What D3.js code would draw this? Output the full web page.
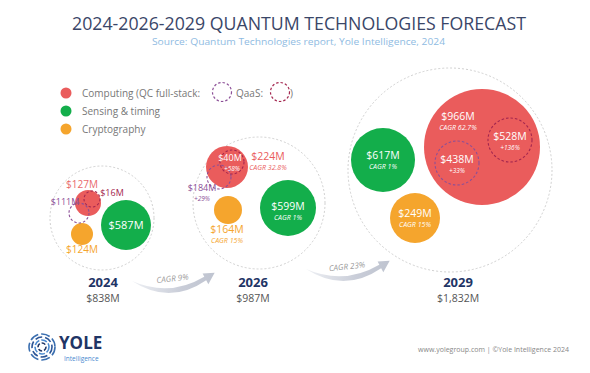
<!DOCTYPE html>
<html lang="en">
<head>
    <meta charset="UTF-8">
    <title>Quantum Technologies Forecast</title>
    <style>
        body { margin: 0; background: #fff; }
        svg { display: block; font-family: "Open Sans", sans-serif; }
    </style>
</head>
<body>
    <svg width="590" height="373"></svg>

    <script src="https://d3js.org/d3.v7.min.js"></script>
    <script>
        // data (US$ million)
        let years = ["2024", "2026", "2029"];
        let totals = [838, 987, 1832];
        let computing = [127, 224, 966];
        let sensing = [587, 599, 617];
        let crypto = [124, 164, 249];
        let qcFullStack = [111, 184, 438];
        let qaas = [16, 40, 528];
        let computingCagr = ["", "32.8%", "62.7%"];
        let sensingCagr = ["", "1%", "1%"];
        let cryptoCagr = ["", "15%", "15%"];
        let qcGrowth = ["", "+29%", "+33%"];
        let qaasGrowth = ["", "+58%", "+136%"];
        let totalCagr = ["9%", "23%"];

        // layout (not data): group centres / radii, and bubble offsets inside each group
        let groupX = d3.scaleOrdinal().domain(years).range([102, 259, 450]);
        let groupY = d3.scaleOrdinal().domain(years).range([218, 203, 170]);
        let groupR = d3.scaleOrdinal().domain(years).range([52, 66, 102]);
        let bubbleLayout = {
            computing: [[-14, -15, 13], [-32, -36, 21], [32, -23, 58]],
            sensing:   [[24, 7, 25], [29, 5, 28], [-67, -10, 32]],
            crypto:    [[-20, 16, 11], [-31, 7, 14], [-35, 48, 25]],
            qc:        [[-23, -5, 10], [-40, -26, 12], [7, -7, 22]],
            qaas:      [[-10, -19, 8], [-27, -41, 12], [60, -30, 22]]
        };

        let red = "#ea5c5c", green = "#13ae4b", orange = "#f5a52d";
        let purple = "#8c4f97", wine = "#a3264f";
        let money = d3.format("$,");

        let svg = d3.select("svg");

        // title
        svg.append("text").attr("x", 72).attr("y", 30)
            .attr("textLength", 454).attr("lengthAdjust", "spacingAndGlyphs")
            .style("font-size", "18px").style("fill", "#3a4668")
            .text("2024-2026-2029 QUANTUM TECHNOLOGIES FORECAST");
        svg.append("text").attr("x", 152).attr("y", 44.5)
            .attr("textLength", 293).attr("lengthAdjust", "spacingAndGlyphs")
            .style("font-size", "9px").style("fill", "#8fbbe2")
            .text("Source: Quantum Technologies report, Yole Intelligence, 2024");

        // legend
        let legend = [["Computing (QC full-stack:", red], ["Sensing & timing", green], ["Cryptography", orange]];
        legend.forEach(function(d, i) {
            svg.append("circle").attr("cx", 66).attr("cy", 93 + i * 18).attr("r", 5.5).style("fill", d[1]);
            svg.append("text").attr("x", 82).attr("y", 96.5 + i * 18)
                .style("font-size", "10px").style("fill", "#777").text(d[0]);
        });
        svg.append("circle").attr("cx", 222).attr("cy", 92).attr("r", 9.5)
            .style("fill", "none").style("stroke", purple).style("stroke-width", 1.2).style("stroke-dasharray", "2.5,2");
        svg.append("text").attr("x", 236).attr("y", 96.5).style("font-size", "10px").style("fill", "#777").text("QaaS:");
        svg.append("circle").attr("cx", 280).attr("cy", 92).attr("r", 9.5)
            .style("fill", "none").style("stroke", wine).style("stroke-width", 1.2).style("stroke-dasharray", "2.5,2");
        svg.append("text").attr("x", 290).attr("y", 96.5).style("font-size", "10px").style("fill", "#777").text(")");

        function pos(key, i) {
            let l = bubbleLayout[key][i];
            return { x: groupX(years[i]) + l[0], y: groupY(years[i]) + l[1], r: l[2] };
        }

        function label(x, y, txt, size, color, italic, weight) {
            return svg.append("text").attr("x", x).attr("y", y).attr("dy", "0.35em")
                .attr("text-anchor", "middle")
                .style("font-size", size + "px").style("fill", color)
                .style("font-style", italic ? "italic" : "normal")
                .style("font-weight", weight || 400)
                .text(txt);
        }

        // growth arrows between the years
        function crescent(x0, y0, x1, y1, sag, thick) {
            let mx = (x0 + x1) / 2, my = (y0 + y1) / 2;
            let dx = x1 - x0, dy = y1 - y0, len = Math.sqrt(dx * dx + dy * dy);
            let px = -dy / len, py = dx / len; // perpendicular pointing down
            let c1 = [mx + px * sag, my + py * sag];
            let c2 = [mx + px * (sag + thick), my + py * (sag + thick)];
            let ex = x1 - c1[0], ey = y1 - c1[1], el = Math.sqrt(ex * ex + ey * ey);
            ex /= el; ey /= el;
            let nx = -ey, ny = ex;
            let p = d3.path();
            p.moveTo(x0, y0);
            p.quadraticCurveTo(c2[0], c2[1], x1 + nx * 2.5, y1 + ny * 2.5);
            p.lineTo(x1 + nx * 7, y1 + ny * 7);
            p.lineTo(x1 + ex * 11, y1 + ey * 11);
            p.lineTo(x1 - nx * 5, y1 - ny * 5);
            p.lineTo(x1 - nx * 1.5, y1 - ny * 1.5);
            p.quadraticCurveTo(c1[0], c1[1], x0, y0);
            p.closePath();
            return p.toString();
        }
        let grad = svg.append("defs").append("linearGradient").attr("id", "arrowFill");
        grad.append("stop").attr("offset", "0%").style("stop-color", "#eef0f4");
        grad.append("stop").attr("offset", "60%").style("stop-color", "#c9cdd8");
        grad.append("stop").attr("offset", "100%").style("stop-color", "#bfc4d0");
        let arrowEnds = [[132, 281, 205, 278], [306, 269, 380, 266]];
        totalCagr.forEach(function(c, i) {
            let a = arrowEnds[i];
            svg.append("path").attr("d", crescent(a[0], a[1], a[2], a[3], 18, 8))
                .style("fill", "url(#arrowFill)");
            let tx = (a[0] + a[2]) / 2 + 4, ty = (a[1] + a[3]) / 2 - 1;
            label(tx, ty, "CAGR " + c, 8, "#9a9a9a", true)
                .attr("transform", "rotate(-6," + tx + "," + ty + ")");
        });

        // year groups
        years.forEach(function(year, i) {
            svg.append("circle")
                .attr("cx", groupX(year)).attr("cy", groupY(year)).attr("r", groupR(year))
                .style("fill", "none").style("stroke", "#c4c4c4")
                .style("stroke-width", 0.8).style("stroke-dasharray", "2,2");

            let series = [["computing", red], ["sensing", green], ["crypto", orange]];
            series.forEach(function(s) {
                let p = pos(s[0], i);
                svg.append("circle").attr("cx", p.x).attr("cy", p.y).attr("r", p.r).style("fill", s[1]);
            });
            [["qc", purple], ["qaas", wine]].forEach(function(s) {
                let p = pos(s[0], i);
                svg.append("circle").attr("cx", p.x).attr("cy", p.y).attr("r", p.r)
                    .style("fill", "none").style("stroke", s[1])
                    .style("stroke-width", 1.1).style("stroke-dasharray", "2.5,2");
            });

            // year + total
            let lx = groupX(year) + (i === 2 ? 8 : (i === 1 ? -6 : 1));
            label(lx, 282, year, 13, "#1f3566", false, 700);
            label(lx, 298.5, money(totals[i]) + "M", 10.5, "#555");
        });

        // value labels, 2024
        let c0 = pos("computing", 0), s0 = pos("sensing", 0), k0 = pos("crypto", 0);
        label(c0.x - 6, c0.y - 19, money(computing[0]) + "M", 10, "#e9696b");
        label(c0.x + 24, c0.y - 10, money(qaas[0]) + "M", 9, wine);
        label(c0.x - 23, c0.y - 1, money(qcFullStack[0]) + "M", 9, purple);
        label(s0.x, s0.y, money(sensing[0]) + "M", 11, "#fff");
        label(k0.x, k0.y + 15, money(crypto[0]) + "M", 10, orange);

        // value labels, 2026
        let c1 = pos("computing", 1), s1 = pos("sensing", 1), k1 = pos("crypto", 1), a1 = pos("qaas", 1), q1 = pos("qc", 1);
        label(a1.x - 2, a1.y - 4, money(qaas[1]) + "M", 9, "#fff");
        label(a1.x, a1.y + 7, qaasGrowth[1], 6.5, "#fff", true);
        label(c1.x + 41, c1.y - 11, money(computing[1]) + "M", 10.5, red);
        label(c1.x + 41, c1.y + 1, "CAGR " + computingCagr[1], 7, red, true);
        label(q1.x - 17, q1.y + 11, money(qcFullStack[1]) + "M", 9, purple);
        label(q1.x - 17, q1.y + 22, qcGrowth[1], 6.5, purple, true);
        label(s1.x, s1.y - 2, money(sensing[1]) + "M", 10.5, "#fff");
        label(s1.x, s1.y + 10, "CAGR " + sensingCagr[1], 7, "#fff", true);
        label(k1.x - 1, k1.y + 19, money(crypto[1]) + "M", 10.5, orange);
        label(k1.x - 1, k1.y + 31, "CAGR " + cryptoCagr[1], 7, orange, true);

        // value labels, 2029
        let c2 = pos("computing", 2), s2 = pos("sensing", 2), k2 = pos("crypto", 2), a2 = pos("qaas", 2), q2 = pos("qc", 2);
        label(c2.x - 24, c2.y - 31, money(computing[2]) + "M", 10.5, "#fff");
        label(c2.x - 24, c2.y - 19, "CAGR " + computingCagr[2], 7, "#fff", true);
        label(a2.x, a2.y - 4, money(qaas[2]) + "M", 10.5, "#fff");
        label(a2.x, a2.y + 8, qaasGrowth[2], 6.5, "#fff", true);
        label(q2.x, q2.y - 4, money(qcFullStack[2]) + "M", 10.5, "#fff");
        label(q2.x, q2.y + 8, qcGrowth[2], 6.5, "#fff", true);
        label(s2.x, s2.y - 5, money(sensing[2]) + "M", 10.5, "#fff");
        label(s2.x, s2.y + 7, "CAGR " + sensingCagr[2], 7, "#fff", true);
        label(k2.x, k2.y - 5, money(crypto[2]) + "M", 10.5, "#fff");
        label(k2.x, k2.y + 7, "CAGR " + cryptoCagr[2], 7, "#fff", true);

        // logo
        let logo = svg.append("g").attr("transform", "translate(42,347)");
        [[13, "#3b6fb0", "9,3"], [10, "#2c5596", "7,3"], [7, "#4a8ad0", "6,2"], [4, "#1f3566", "4,2"]].forEach(function(r) {
            logo.append("circle").attr("r", r[0]).style("fill", "none").style("stroke", r[1])
                .style("stroke-width", 1.6).style("stroke-dasharray", r[2]);
        });
        svg.append("text").attr("x", 59).attr("y", 349).style("font-size", "17px")
            .style("font-weight", 700).style("fill", "#1f3566").text("YOLE");
        svg.append("text").attr("x", 64).attr("y", 361).style("font-size", "6.5px")
            .style("fill", "#4a8ad0").text("Intelligence");

        // footer
        svg.append("text").attr("x", 569).attr("y", 352).attr("text-anchor", "end")
            .style("font-size", "7px").style("fill", "#888")
            .text("www.yolegroup.com | ©Yole Intelligence 2024");
    </script>
</body>
</html>
